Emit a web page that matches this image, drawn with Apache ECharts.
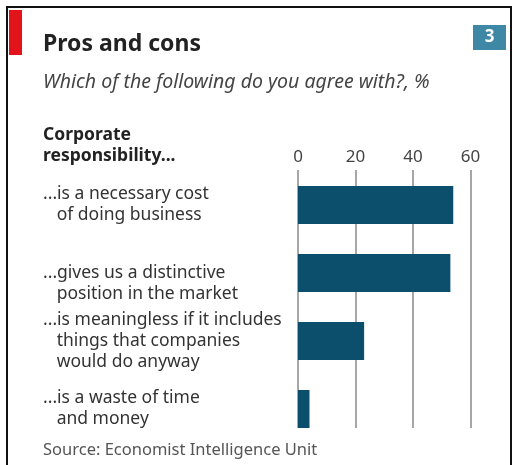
<!DOCTYPE html>
<html><head><meta charset="utf-8">
<script src="https://cdn.jsdelivr.net/npm/echarts@6/dist/echarts.min.js"></script>
<style>html,body{margin:0;padding:0;background:#fff}#c{width:513px;height:465px}</style>
</head><body><div id="c"></div>
<script>
const categories = [
  '...is a necessary cost\n   of doing business',
  '...gives us a distinctive\n   position in the market',
  '...is meaningless if it includes\n   things that companies\n   would do anyway',
  '...is a waste of time\n   and money'
];
const values = [54, 53, 23, 4];
const tickValues = [0, 20, 40, 60];

const chart = echarts.init(document.getElementById('c'), null, {renderer: 'canvas'});
const FONT = 'Noto Sans';
chart.setOption({
  animation: false,
  backgroundColor: '#fff',
  graphic: [
    {type: 'rect', shape: {x: 7, y: 7, width: 504, height: 470}, style: {fill: 'none', stroke: '#111', lineWidth: 2}},
    {type: 'rect', shape: {x: 9, y: 10, width: 13, height: 45}, style: {fill: '#e3131b'}},
    {type: 'rect', shape: {x: 473, y: 25, width: 33, height: 25}, style: {fill: '#3f88a5'}},
    {type: 'text', x: 489.5, y: 37.5, style: {text: '3', fill: '#fff', font: 'bold 17px ' + FONT, textAlign: 'center', textVerticalAlign: 'middle'}},
    {type: 'text', x: 43, y: 44, style: {text: 'Pros and cons', fill: '#222', font: 'bold 23px ' + FONT, textVerticalAlign: 'middle'}},
    {type: 'text', x: 43, y: 82, style: {text: 'Which of the following do you agree with?, %', fill: '#444', font: 'italic 19.5px ' + FONT, textVerticalAlign: 'middle'}},
    {type: 'text', x: 43, y: 135, style: {text: 'Corporate', fill: '#222', font: 'bold 17.5px ' + FONT, textVerticalAlign: 'middle'}},
    {type: 'text', x: 43, y: 156, style: {text: 'responsibility...', fill: '#222', font: 'bold 17.5px ' + FONT, textVerticalAlign: 'middle'}},
    {type: 'text', x: 43, y: 450, style: {text: 'Source: Economist Intelligence Unit', fill: '#555', font: '16.5px ' + FONT, textVerticalAlign: 'middle'}}
  ],
  grid: [
    {left: 298, top: 170, width: 172.5, height: 258, outerBoundsMode: 'none', containLabel: false},
    {left: 298, top: 171, width: 172.5, height: 272, outerBoundsMode: 'none', containLabel: false}
  ],
  xAxis: [
    {gridIndex: 0, type: 'value', position: 'top', min: 0, max: 60, interval: 20,
     axisLine: {show: false}, axisTick: {show: false},
     axisLabel: {margin: 4, color: '#444', fontFamily: FONT, fontSize: 17,
       formatter: v => tickValues.includes(v) ? String(v) : ''},
     splitLine: {show: true, lineStyle: {color: '#a6a6a6', width: 2}}},
    {gridIndex: 1, type: 'value', min: 0, max: 60, show: false}
  ],
  yAxis: [
    {gridIndex: 0, type: 'category', data: categories, show: false},
    {gridIndex: 1, type: 'category', data: categories, inverse: true,
     axisLine: {show: false}, axisTick: {show: false},
     axisLabel: {margin: 255, align: 'left', color: '#333', fontFamily: FONT, fontSize: 17.5, lineHeight: 21,
       formatter: (v, i) => i === 1 ? '\n' + v : v}}
  ],
  series: [{
    type: 'bar', xAxisIndex: 1, yAxisIndex: 1, data: values, barWidth: 38,
    itemStyle: {color: '#0b4f6c'}
  }]
});
</script></body></html>
